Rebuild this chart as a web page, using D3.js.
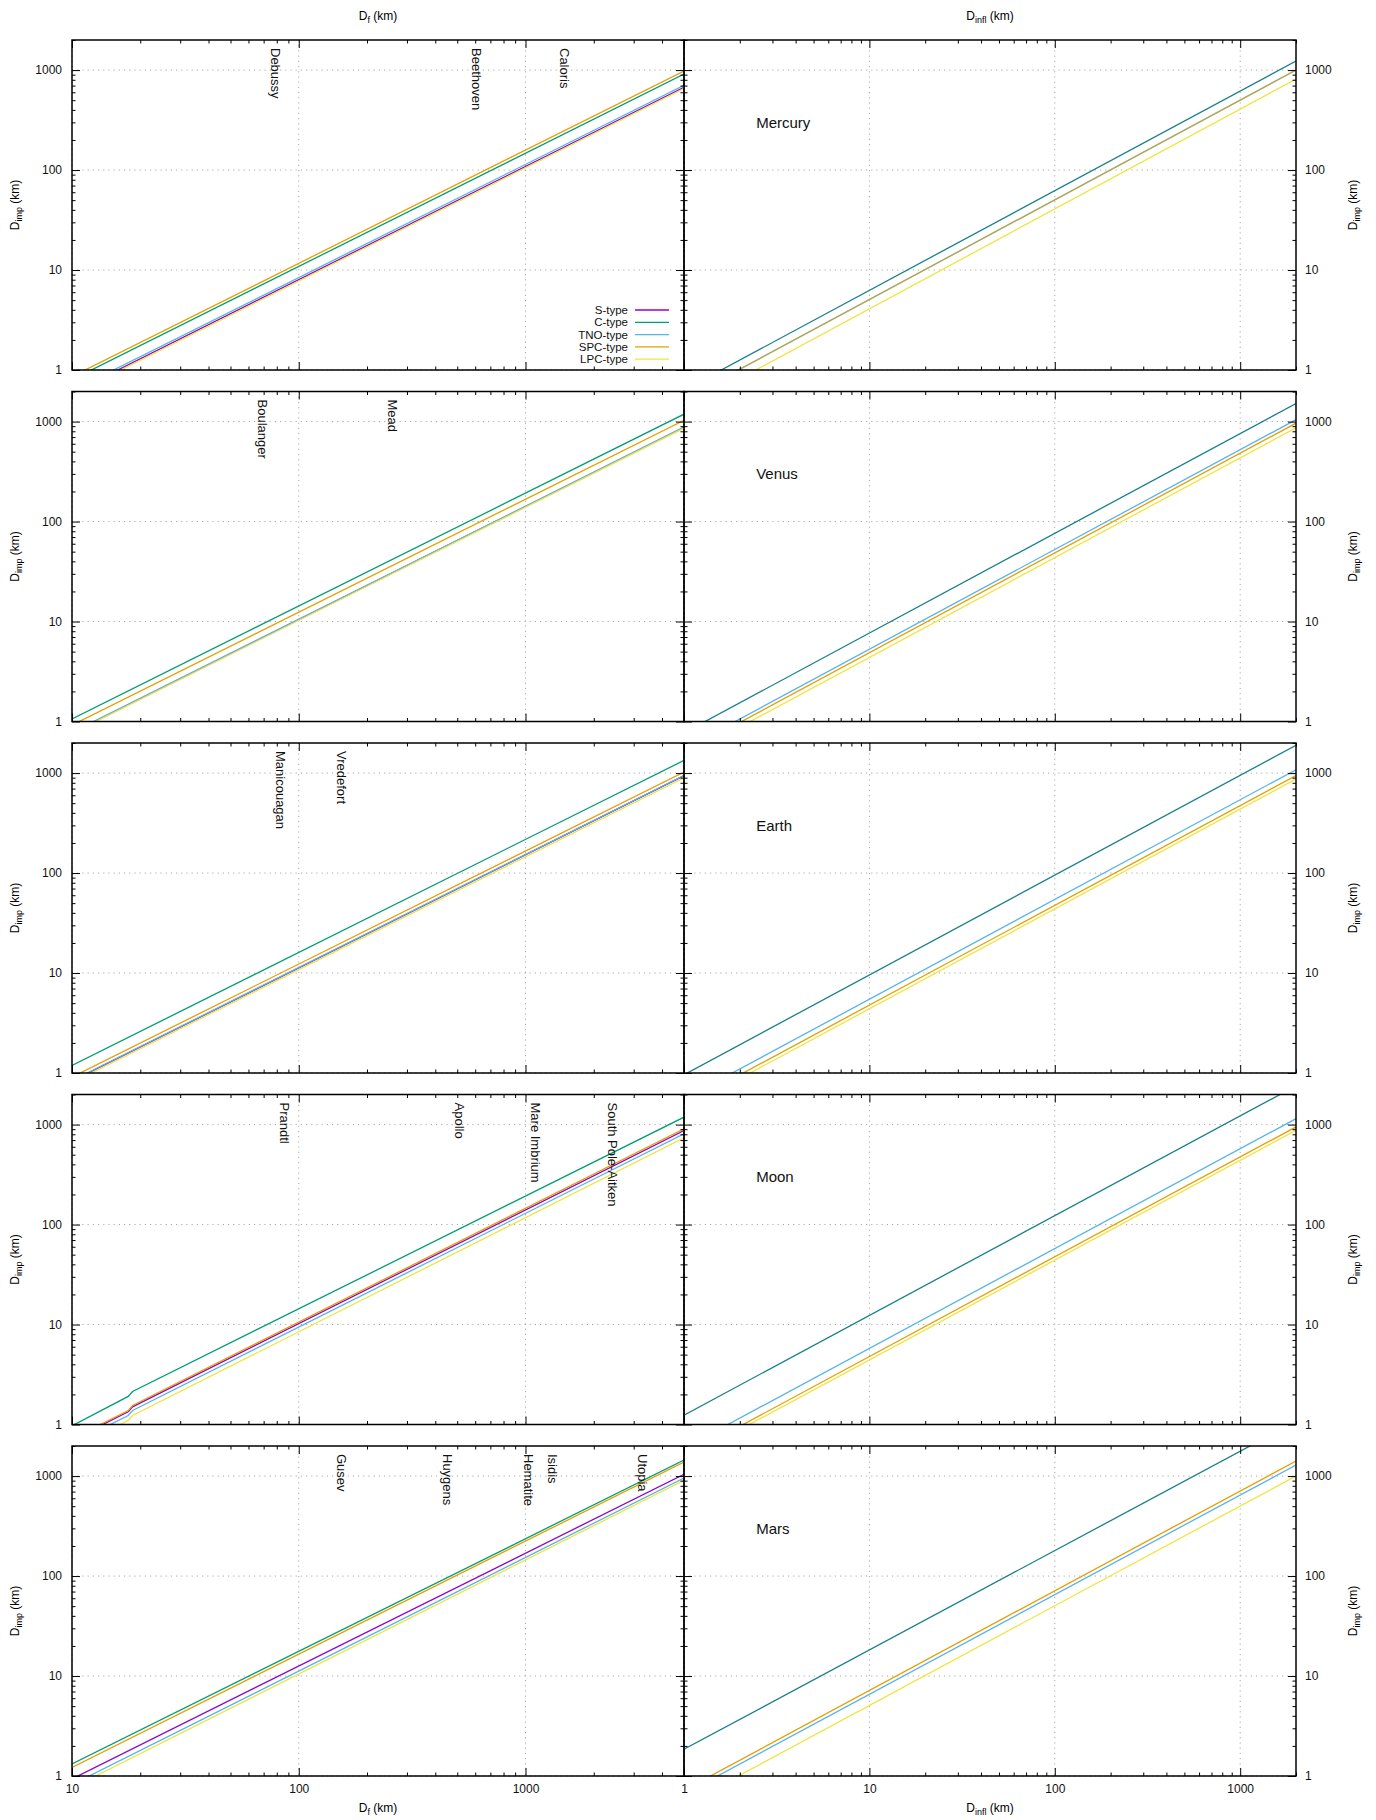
<!DOCTYPE html>
<html>
<head>
<meta charset="utf-8">
<script src="https://cdn.jsdelivr.net/npm/d3@7"></script>
<style>
  body { margin: 0; background: #fff; }
  svg { display: block; font-family: "Liberation Sans", Arial, Helvetica, sans-serif; }
</style>
</head>
<body>
<svg id="chart"></svg>
<script>
const width = 1376;
const height = 1820;

const planets = ["Mercury", "Venus", "Earth", "Moon", "Mars"];
const types = ["S-type", "C-type", "TNO-type", "SPC-type", "LPC-type"];
const typeColors = ["#9400d3", "#009e73", "#56b4e9", "#e69f00", "#f0e442"];

// left column: D_imp (km) for each type (S, C, TNO, SPC, LPC) at the D_f values of dfX
const dfX = [10, 5000];
const dfXMoon = [10, 17.7, 18.5, 5000];
const mercuryDf = [[0.59, 673], [0.80, 914], [0.62, 705], [0.86, 980], [0.57, 655]];
const venusDf   = [[0.77, 874], [1.06, 1186], [0.78, 879], [0.92, 1032], [0.76, 859]];
const earthDf   = [[0.83, 942], [1.19, 1340], [0.84, 946], [0.91, 1026], [0.80, 898]];
const moonDf    = [[0.70, 1.34, 1.50, 873], [0.97, 1.91, 2.14, 1186], [0.645, 1.23, 1.38, 809], [0.72, 1.38, 1.55, 908], [0.57, 1.10, 1.23, 738]];
const marsDf    = [[0.935, 1042], [1.32, 1449], [0.82, 957], [1.22, 1384], [0.76, 908]];

// right column: D_imp (km) at the D_infl values of dinflX (S and C coincide there)
const dinflX = [1, 2000];
const dinflTypes = ["S/C-type", "TNO-type", "SPC-type", "LPC-type"];
const dinflColors = ["#1a7f8c", "#56b4e9", "#e69f00", "#f0e442"];
const mercuryDinfl = [[0.63, 1233], [0.51, 1000], [0.51, 1000], [0.41, 815]];
const venusDinfl   = [[0.77, 1517], [0.53, 1045], [0.49, 964], [0.44, 867]];
const earthDinfl   = [[0.96, 1897], [0.55, 1081], [0.48, 946], [0.44, 873]];
const moonDinfl    = [[1.24, 2438], [0.58, 1146], [0.48, 948], [0.445, 877]];
const marsDinfl    = [[1.85, 3530], [0.66, 1291], [0.72, 1416], [0.51, 1002]];

// named craters, placed at their final diameter D_f (km)
const mercuryCraters = ["Debussy", "Beethoven", "Caloris"];
const mercuryCraterDf = [79, 610, 1490];
const venusCraters = ["Boulanger", "Mead"];
const venusCraterDf = [69, 259];
const earthCraters = ["Manicouagan", "Vredefort"];
const earthCraterDf = [83, 155];
const moonCraters = ["Prandtl", "Apollo", "Mare Imbrium", "South Pole-Aitken"];
const moonCraterDf = [87, 510, 1104, 2432];
const marsCraters = ["Gusev", "Huygens", "Hematite", "Isidis", "Utopia"];
const marsCraterDf = [154, 455, 1028, 1318, 3268];

const yTicks = [1, 10, 100, 1000];
const dfTicks = [10, 100, 1000];
const dinflTicks = [1, 10, 100, 1000];

const rows = [
  { df: mercuryDf, dfXs: dfX, dinfl: mercuryDinfl, craters: mercuryCraters, craterDf: mercuryCraterDf },
  { df: venusDf, dfXs: dfX, dinfl: venusDinfl, craters: venusCraters, craterDf: venusCraterDf },
  { df: earthDf, dfXs: dfX, dinfl: earthDinfl, craters: earthCraters, craterDf: earthCraterDf },
  { df: moonDf, dfXs: dfXMoon, dinfl: moonDinfl, craters: moonCraters, craterDf: moonCraterDf },
  { df: marsDf, dfXs: dfX, dinfl: marsDinfl, craters: marsCraters, craterDf: marsCraterDf }
];

const leftX0 = 72, midX = 684, rightX1 = 1296;
const rowTop0 = 40, rowStep = 351.5, rowH = 330;
const MAJOR = 8, MINOR = 3.5;

const xDf = d3.scaleLog().domain([10, 5000]).range([leftX0, midX]);
const xInfl = d3.scaleLog().domain([1, 2000]).range([midX, rightX1]);

const svg = d3.select("#chart")
  .attr("width", width)
  .attr("height", height);

const defs = svg.append("defs");

function subText(sel, sub) {
  sel.append("tspan").text("D");
  sel.append("tspan").attr("font-size", 9).attr("dy", 3).text(sub);
  sel.append("tspan").attr("dy", -3).text(" (km)");
}

function tickSide(g, axisFn, scale, values, size, transform, labels, padding) {
  const a = g.append("g")
    .attr("transform", transform)
    .call(axisFn(scale).tickValues(values).tickSize(-size).tickPadding(padding || 3)
      .tickFormat(labels ? d3.format("d") : ""))
    .attr("font-size", 12)
    .attr("font-family", null);
  a.select(".domain").remove();
  a.selectAll("line").attr("stroke", "#000").attr("stroke-width", 1);
  a.selectAll("text").attr("fill", "#111");
  return a;
}

function drawPanel(id, x, y, majorX, series, xs, colors, opts) {
  const [x0, x1] = x.range();
  const [y1, y0] = y.range();
  const g = svg.append("g").attr("class", "panel");

  defs.append("clipPath").attr("id", id)
    .append("rect").attr("x", x0).attr("y", y0).attr("width", x1 - x0).attr("height", y1 - y0);

  // dotted grid
  const grid = g.append("g").attr("stroke", "#a8a8a8").attr("stroke-dasharray", "1.2,4").attr("stroke-width", 1);
  grid.selectAll(".gx").data(majorX).enter().append("line")
    .attr("x1", d => x(d)).attr("x2", d => x(d)).attr("y1", y0).attr("y2", y1);
  grid.selectAll(".gy").data(yTicks).enter().append("line")
    .attr("x1", x0).attr("x2", x1).attr("y1", d => y(d)).attr("y2", d => y(d));

  // a series lying exactly on the previous one is blended with it
  const line = d3.line().x(d => x(d[0])).y(d => y(d[1]));
  g.append("g").attr("clip-path", `url(#${id})`)
    .selectAll("path")
    .data(series)
    .enter().append("path")
    .attr("d", vals => line(xs.map((xv, j) => [xv, vals[j]])))
    .attr("fill", "none")
    .attr("stroke", (d, i) => colors[i])
    .attr("stroke-opacity", (d, i) => (i > 0 && d.join() === series[i - 1].join()) ? 0.7 : 1)
    .attr("stroke-width", 1.3);

  // ticks on all four sides, pointing inward
  const minorX = x.ticks().filter(d => !majorX.includes(d));
  const minorY = y.ticks().filter(d => !yTicks.includes(d));
  tickSide(g, d3.axisLeft, y, yTicks, MAJOR, `translate(${x0},0)`, opts.leftLabels, 10);
  tickSide(g, d3.axisLeft, y, minorY, MINOR, `translate(${x0},0)`, false);
  tickSide(g, d3.axisRight, y, yTicks, MAJOR, `translate(${x1},0)`, opts.rightLabels, 9);
  tickSide(g, d3.axisRight, y, minorY, MINOR, `translate(${x1},0)`, false);
  tickSide(g, d3.axisTop, x, majorX, MAJOR, `translate(0,${y0})`, false);
  tickSide(g, d3.axisTop, x, minorX, MINOR, `translate(0,${y0})`, false);
  tickSide(g, d3.axisBottom, x, majorX, MAJOR, `translate(0,${y1})`, opts.bottomLabels, 8);
  tickSide(g, d3.axisBottom, x, minorX, MINOR, `translate(0,${y1})`, false);

  g.append("rect")
    .attr("x", x0).attr("y", y0).attr("width", x1 - x0).attr("height", y1 - y0)
    .attr("fill", "none").attr("stroke", "#000").attr("stroke-width", 1.5);

  return g;
}

rows.forEach((r, i) => {
  const top = rowTop0 + i * rowStep;
  const bottom = top + rowH;
  const y = d3.scaleLog().domain([1, 2000]).range([bottom, top]);
  const isLast = i === rows.length - 1;

  const left = drawPanel("clipL" + i, xDf, y, dfTicks, r.df, r.dfXs, typeColors,
    { leftLabels: true, rightLabels: false, bottomLabels: isLast });
  const right = drawPanel("clipR" + i, xInfl, y, dinflTicks, r.dinfl, dinflX, dinflColors,
    { leftLabels: false, rightLabels: true, bottomLabels: isLast });

  // crater names, rotated, hanging from the top border
  left.selectAll(".crater")
    .data(r.craters)
    .enter().append("text")
    .attr("class", "crater")
    .attr("transform", (d, j) => `translate(${xDf(r.craterDf[j])},${top + 8}) rotate(90)`)
    .attr("dy", "0.35em")
    .attr("font-size", 13)
    .attr("fill", "#111")
    .text(d => d);

  right.append("text")
    .attr("x", xInfl(2.45))
    .attr("y", y(300))
    .attr("dy", "0.35em")
    .attr("font-size", 15)
    .attr("fill", "#111")
    .text(planets[i]);

  // y axis titles
  const mid = (top + bottom) / 2;
  svg.append("text")
    .attr("transform", `translate(19,${mid}) rotate(-90)`)
    .attr("text-anchor", "middle")
    .attr("font-size", 12)
    .call(subText, "imp");
  svg.append("text")
    .attr("transform", `translate(1357,${mid}) rotate(-90)`)
    .attr("text-anchor", "middle")
    .attr("font-size", 12)
    .call(subText, "imp");
});

// x axis titles, top and bottom
const xTitles = [
  { x: (leftX0 + midX) / 2, sub: "f" },
  { x: (midX + rightX1) / 2, sub: "infl" }
];
xTitles.forEach(t => {
  svg.append("text").attr("x", t.x).attr("y", 20).attr("text-anchor", "middle")
    .attr("font-size", 12).call(subText, t.sub);
  svg.append("text").attr("x", t.x).attr("y", 1812).attr("text-anchor", "middle")
    .attr("font-size", 12).call(subText, t.sub);
});

// LEGEND (Mercury, D_f panel)
const legend = svg.append("g")
  .attr("transform", "translate(628,310)")
  .selectAll("g")
  .data(types)
  .enter().append("g")
  .attr("transform", (d, i) => `translate(0,${i * 12.3})`);

legend.append("text")
  .attr("text-anchor", "end")
  .attr("dy", "0.35em")
  .attr("font-size", 11.5)
  .attr("fill", "#111")
  .text(d => d);

legend.append("line")
  .attr("x1", 7).attr("x2", 41)
  .attr("stroke", (d, i) => typeColors[i])
  .attr("stroke-width", 1.3);
</script>
</body>
</html>
